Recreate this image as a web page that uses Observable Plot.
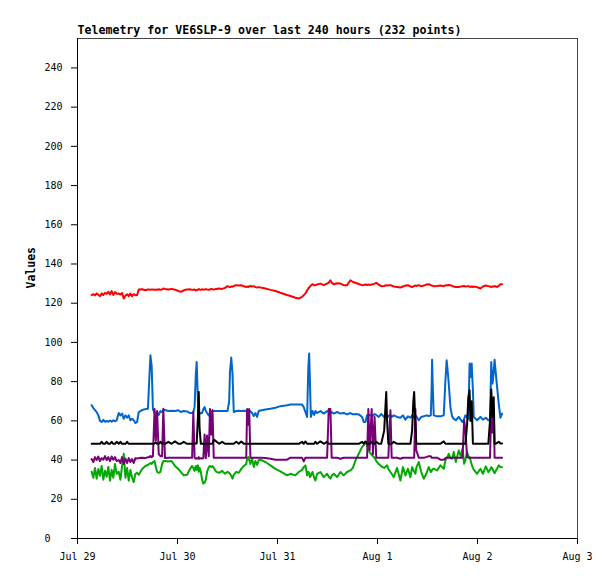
<!DOCTYPE html>
<html>
<head>
<meta charset="utf-8">
<script src="https://cdn.jsdelivr.net/npm/d3@7"></script>
<script src="https://cdn.jsdelivr.net/npm/@observablehq/plot@0.6"></script>
<style>
  html, body { margin: 0; padding: 0; background: #fff; }
  #chart svg { display: block; }
</style>
</head>
<body>
<div id="chart"></div>
<script>
const title = "Telemetry for VE6SLP-9 over last 240 hours (232 points)";
const yLabel = "Values";
const startTime = "2024-07-29T00:00:00Z";

// hours since Jul 29 00:00
const hours = [
  3.4,3.8,4.2,4.6,5.0,5.4,5.8,6.2,6.6,7.0,
  7.4,7.8,8.2,8.6,9.0,9.4,9.9,10.3,10.7,11.1,
  11.5,11.9,12.3,12.7,13.1,13.5,13.9,14.3,14.7,15.5,
  16.3,16.9,17.2,17.5,17.8,18.1,18.5,18.8,19.1,19.5,
  19.9,20.3,20.6,21.0,21.8,22.6,23.4,24.2,24.8,25.5,
  26.3,27.0,27.5,27.8,28.1,28.4,28.6,28.9,29.1,29.3,
  29.6,29.9,30.2,30.5,30.8,31.1,31.5,31.8,32.1,32.4,
  32.7,33.3,34.0,34.7,35.4,36.0,36.4,36.6,36.9,37.2,
  37.5,38.1,38.7,39.3,39.9,40.5,40.7,41.0,41.2,41.5,
  41.9,42.3,42.7,43.1,43.5,43.9,45.1,46.3,47.5,48.7,
  50.3,51.1,52.3,53.1,53.9,54.3,54.7,55.1,55.4,55.6,
  55.8,56.0,56.4,56.8,57.1,57.5,58.3,59.1,59.9,60.3,
  60.7,61.0,61.5,62.3,63.1,63.9,64.7,65.5,66.1,66.7,
  67.5,68.3,68.7,69.1,69.5,69.8,70.1,70.6,70.9,71.3,
  71.7,72.3,72.9,73.6,73.9,74.1,74.3,74.6,75.1,75.4,
  75.9,76.7,77.5,78.1,78.7,79.3,79.9,80.3,80.6,80.8,
  81.1,81.3,81.9,82.5,83.1,83.7,84.3,84.8,85.0,85.1,
  85.3,85.5,86.3,87.1,87.9,88.3,88.6,88.9,89.1,89.5,
  89.9,90.3,90.8,91.5,92.0,92.4,92.8,93.1,93.5,93.8,
  94.1,94.3,94.6,94.9,95.1,95.9,96.7,97.3,98.0,98.6,
  99.0,99.3,99.6,99.9,100.1,100.4,100.7,101.1,101.5,101.9
];

const redValues = [
  124.1,124.6,124.0,125.0,124.3,123.6,125.0,124.2,125.3,124.8,
  125.8,124.5,126.2,124.2,125.7,124.8,124.9,124.4,125.2,122.4,
  123.8,124.6,123.6,124.9,123.6,124.6,124.1,124.1,127.0,127.1,
  126.6,127.0,127.0,126.8,127.0,127.0,126.8,127.0,126.8,127.1,
  126.9,127.0,127.5,127.3,127.0,127.3,126.9,126.2,125.8,126.6,
  127.0,127.1,126.8,126.9,127.0,126.5,126.7,126.9,127.2,127.0,
  126.8,127.1,126.9,127.0,127.2,127.0,126.9,127.0,127.3,127.1,
  127.0,127.3,127.5,127.3,127.8,128.7,128.3,128.3,128.5,128.4,
  128.8,129.2,129.0,129.2,128.6,128.3,128.5,128.3,128.6,128.8,
  128.5,128.7,128.2,128.0,128.2,128.0,127.5,126.8,126.2,125.3,
  124.2,123.7,122.8,122.4,123.2,124.1,125.0,126.5,127.5,128.0,
  128.5,129.0,129.7,129.2,129.2,129.5,130.0,129.2,130.0,130.5,
  131.7,130.5,129.7,130.2,130.0,129.2,129.2,131.7,130.8,130.4,
  129.8,129.2,129.3,129.5,129.3,129.5,129.3,129.5,129.6,130.0,
  130.4,129.5,128.7,128.8,129.0,129.2,129.0,129.1,129.2,129.0,
  128.5,128.3,128.0,128.5,129.0,129.2,128.5,128.3,128.5,128.8,
  129.0,128.8,129.2,128.6,129.0,129.5,129.7,129.2,129.0,129.0,
  128.8,128.7,128.8,129.0,128.7,129.0,129.2,129.2,129.3,129.2,
  128.8,128.5,128.3,128.3,128.5,128.7,128.8,128.5,128.6,128.7,
  128.5,128.3,128.5,128.3,128.5,128.2,127.5,128.5,129.0,128.7,
  128.5,128.3,128.5,128.5,128.8,128.5,128.3,128.8,129.7,129.7
];

const blueValues = [
  68.0,66.5,65.5,64.5,62.8,60.0,59.4,60.5,59.5,60.0,
  59.5,60.2,59.6,60.3,59.8,60.2,64.0,62.8,63.7,61.1,
  62.8,61.6,62.8,60.3,61.1,60.3,58.9,59.4,64.5,65.5,
  66.0,66.2,80.0,93.4,88.0,66.0,64.0,62.0,64.5,63.0,
  65.0,64.5,65.5,65.5,65.0,65.2,65.0,65.4,64.5,65.0,
  64.8,64.0,64.0,64.5,67.0,84.0,90.0,70.0,63.7,63.5,
  64.0,64.0,66.0,67.0,65.0,64.0,62.8,64.0,64.5,65.0,
  65.0,65.0,65.0,65.0,65.0,65.0,70.0,85.0,92.3,84.0,
  64.5,65.0,65.2,65.0,65.2,65.0,65.0,65.0,64.0,65.0,
  64.0,62.5,64.0,62.0,65.0,65.3,65.8,66.2,66.7,67.5,
  68.0,68.3,68.3,68.3,68.3,67.0,64.5,62.0,87.5,94.3,
  79.0,62.0,65.0,63.0,65.0,64.0,65.0,63.7,65.0,64.5,
  64.0,64.5,63.7,64.5,63.7,64.0,63.3,64.0,63.3,63.5,
  63.3,62.0,59.4,59.4,62.8,62.8,63.0,62.8,62.5,63.5,
  63.0,62.0,63.5,62.0,63.0,62.5,61.5,62.5,63.0,62.0,
  62.8,62.0,61.6,62.8,60.6,62.3,61.6,62.8,62.0,61.5,
  62.8,62.5,60.3,62.0,62.3,62.8,62.5,62.8,77.0,91.2,
  75.0,62.8,62.3,62.3,62.8,80.7,90.9,84.0,79.0,67.0,
  62.3,61.0,60.3,62.0,60.5,59.4,61.0,62.8,62.0,61.0,
  89.2,82.4,89.2,75.5,62.0,60.3,62.0,60.6,61.6,60.3,
  60.3,90.0,79.0,85.0,91.2,84.0,77.3,68.7,61.6,63.7
];

const blackValues = [
  48.3,48.3,48.3,48.3,48.3,48.3,49.3,48.3,48.3,49.3,
  48.3,48.3,49.3,48.3,48.3,49.3,48.3,49.3,48.3,48.3,
  48.3,49.3,48.3,48.3,48.3,48.3,48.3,48.3,48.3,48.3,
  48.3,48.3,48.3,48.3,48.3,48.3,48.5,49.0,48.3,48.3,
  49.3,48.3,48.5,48.3,49.3,48.3,49.5,48.3,48.3,49.3,
  48.3,48.3,48.3,48.3,48.3,48.5,48.5,62.0,74.7,56.0,
  48.3,48.3,48.3,48.3,48.3,48.3,48.3,48.3,48.3,48.3,
  50.4,49.5,48.3,49.3,48.3,48.3,48.3,48.3,48.3,48.3,
  48.3,49.3,48.3,49.5,48.3,48.3,48.3,48.3,48.3,48.3,
  48.3,48.3,48.3,48.3,48.3,48.3,48.3,48.3,48.3,48.3,
  48.3,48.3,48.3,48.3,49.3,48.3,49.5,48.3,48.3,48.3,
  48.3,48.3,48.3,48.3,49.3,48.3,49.5,48.3,49.3,48.3,
  48.3,48.3,48.3,48.3,48.3,48.3,48.3,48.3,48.3,48.3,
  48.3,49.3,48.3,49.5,48.3,48.3,48.3,49.3,48.3,48.3,
  49.3,48.3,48.3,55.0,67.0,74.7,60.0,48.3,48.3,48.3,
  49.3,48.3,48.3,48.3,48.3,48.3,48.3,55.0,70.0,74.7,
  58.0,48.3,48.3,48.3,48.3,48.3,48.3,48.3,48.3,48.3,
  48.3,48.3,48.3,48.3,49.5,48.3,48.3,48.3,48.3,48.3,
  48.3,48.3,48.3,48.3,48.3,48.3,48.3,48.3,58.0,72.0,
  75.6,60.0,70.0,48.3,48.3,48.3,48.3,48.3,48.3,48.3,
  60.0,76.0,62.0,72.0,48.3,48.3,48.8,49.3,48.5,48.5
];

const purpleValues = [
  40.5,39.0,41.5,40.0,41.8,39.5,41.0,40.2,42.0,40.0,
  41.5,39.5,41.8,40.2,41.5,39.5,40.0,38.5,41.5,38.0,
  40.8,38.5,41.0,39.0,40.5,38.5,41.0,40.8,41.0,41.2,
  41.0,41.5,41.5,42.0,41.5,42.0,66.0,50.0,65.0,43.0,
  42.0,42.0,66.2,41.0,41.2,41.2,41.2,41.2,41.2,41.2,
  41.2,41.2,41.2,64.5,41.2,40.7,41.0,40.7,41.5,40.7,
  41.0,40.7,41.0,53.0,41.0,52.5,42.0,66.0,53.0,65.5,
  41.2,41.2,41.2,41.2,41.2,41.2,41.2,41.2,41.2,41.2,
  41.2,41.2,41.2,41.2,41.2,41.2,66.0,58.0,66.0,41.2,
  41.2,41.2,41.2,41.2,41.2,41.2,41.0,40.7,40.2,40.2,
  40.2,41.2,41.2,41.2,41.2,39.3,41.2,41.2,41.2,41.2,
  41.2,41.2,41.2,41.2,41.2,41.2,41.2,41.2,41.2,66.0,
  66.0,41.2,41.2,41.2,40.7,41.2,41.2,41.2,41.2,41.2,
  41.2,41.2,41.2,41.2,41.2,66.0,45.0,66.0,43.0,62.0,
  41.2,41.2,41.2,41.2,41.2,41.2,41.2,41.2,65.4,41.2,
  41.2,41.2,40.7,41.2,41.2,41.2,41.2,41.2,41.2,41.2,
  66.0,45.0,41.2,41.2,41.2,41.5,42.0,42.0,41.2,41.2,
  41.2,41.2,41.2,40.2,40.2,41.0,41.2,41.2,41.2,41.2,
  41.2,41.2,41.2,41.2,41.2,41.2,60.3,55.0,41.5,41.2,
  41.2,41.2,41.2,41.2,41.2,41.2,41.2,41.2,41.2,41.2,
  41.2,66.0,54.0,66.0,41.2,41.2,41.2,41.2,41.2,41.2
];

const greenValues = [
  34.0,31.0,36.0,30.5,35.5,32.0,37.0,30.0,34.5,31.5,
  36.5,29.5,35.0,31.0,38.0,33.0,34.0,30.0,37.0,43.2,
  31.0,36.0,29.5,35.0,31.0,28.8,33.0,33.5,32.5,35.5,
  37.0,37.5,38.0,38.5,38.0,39.0,39.5,36.5,34.0,33.5,
  34.0,38.0,39.5,39.5,39.3,39.5,37.0,35.5,34.0,32.2,
  32.5,35.5,37.0,36.0,34.5,37.0,35.0,37.3,34.0,36.0,
  34.0,30.0,28.0,28.5,30.0,34.0,36.4,37.0,36.4,37.0,
  36.0,34.0,33.5,34.5,33.0,34.0,33.5,33.0,32.0,30.5,
  32.5,34.0,33.5,35.5,37.0,38.0,40.7,41.5,40.0,38.0,
  41.0,36.5,39.5,37.5,40.0,40.2,39.0,37.3,35.5,34.2,
  32.2,33.0,32.2,33.9,35.0,36.4,37.3,32.2,34.0,33.5,
  31.3,32.0,33.9,31.0,29.6,33.0,33.9,31.3,33.0,31.5,
  30.5,32.0,33.0,31.3,33.9,32.2,33.9,34.7,36.0,39.8,
  43.2,46.6,47.5,49.2,47.5,45.8,44.0,42.8,42.0,41.2,
  39.5,38.0,36.8,36.0,36.5,37.0,37.3,35.5,33.9,33.0,
  31.3,36.0,29.6,36.4,32.2,35.5,31.3,36.4,35.0,34.0,
  33.0,36.0,39.0,33.9,30.5,33.0,36.4,33.9,34.5,35.0,
  35.5,35.6,34.7,37.3,35.6,39.8,41.0,42.0,43.2,41.0,
  40.7,44.1,39.0,44.9,41.8,45.8,38.1,40.0,44.1,42.0,
  41.5,40.0,37.8,36.0,35.1,33.0,35.6,33.0,36.8,33.9,
  35.0,36.4,35.5,34.0,33.3,34.5,35.6,37.3,36.5,36.4
];

const dayTicks = ["2024-07-29","2024-07-30","2024-07-31","2024-08-01","2024-08-02","2024-08-03"];
const yTicks = [0,20,40,60,80,100,120,140,160,180,200,220,240];
const yMax = 255;

// draw order and colours
const seriesList = [
  {values: redValues, color: "#ff0000"},
  {values: blueValues, color: "#0066cc"},
  {values: greenValues, color: "#00aa00"},
  {values: purpleValues, color: "#770077"},
  {values: blackValues, color: "#000000"}
];

const t0 = new Date(startTime).getTime();
const toRows = vals => vals.map((v, i) => ({t: new Date(t0 + hours[i] * 3600e3), v}));

const xStart = new Date(dayTicks[0] + "T00:00:00Z");
const xEnd = new Date(dayTicks[dayTicks.length - 1] + "T00:00:00Z");
const mono = "'DejaVu Sans Mono', monospace";

const chart = Plot.plot({
  width: 615,
  height: 579,
  marginLeft: 77,
  marginRight: 38,
  marginTop: 38,
  marginBottom: 41,
  style: {fontFamily: mono, fontSize: "10px", color: "#000", background: "#fff", overflow: "visible"},
  x: {
    type: "utc",
    domain: [xStart, xEnd],
    ticks: dayTicks.map(d => new Date(d + "T00:00:00Z")),
    tickFormat: d3.utcFormat("%b %-d"),
    tickSize: 6,
    tickPadding: 8,
    label: null
  },
  y: {
    domain: [0, yMax],
    ticks: yTicks,
    tickSize: 6,
    tickPadding: 9,
    tickFormat: d => d === 0 ? "0\u00a0\u00a0" : String(d),
    label: null
  },
  marks: [
    Plot.ruleY([yMax], {stroke: "#444", strokeWidth: 1}),
    Plot.ruleX([xEnd], {stroke: "#444", strokeWidth: 1}),
    ...seriesList.map(s => Plot.line(toRows(s.values), {x: "t", y: "v", stroke: s.color, strokeWidth: 2})),
    Plot.ruleY([0], {stroke: "#000", strokeWidth: 1}),
    Plot.ruleX([xStart], {stroke: "#000", strokeWidth: 1}),
    Plot.text([title], {text: d => d, frameAnchor: "top-left", dy: -8, textAnchor: "start", lineAnchor: "middle",
      fontFamily: mono, fontWeight: "bold", fontSize: 11.6, fill: "#000"}),
    Plot.text([yLabel], {text: d => d, frameAnchor: "left", dx: -46, rotate: -90,
      fontFamily: mono, fontWeight: "bold", fontSize: 11.5, fill: "#000"})
  ]
});

document.getElementById("chart").appendChild(chart);
</script>
</body>
</html>
